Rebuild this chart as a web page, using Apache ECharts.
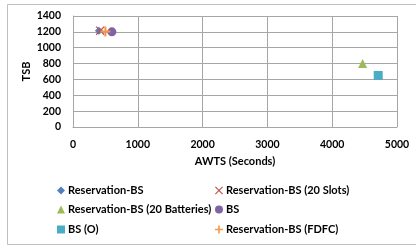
<!DOCTYPE html>
<html>
<head>
<meta charset="utf-8">
<script src="https://cdn.jsdelivr.net/npm/echarts@6/dist/echarts.min.js"></script>
<style>
  html, body { margin: 0; padding: 0; background: #fff; }
  #chart { width: 416px; height: 248px; }
</style>
</head>
<body>
<div id="chart"></div>
<script>
// Dados (AWTS em segundos, TSB)
const seriesNames = [
    'Reservation-BS',
    'Reservation-BS (20 Slots)',
    'Reservation-BS (20 Batteries)',
    'BS',
    'BS (O)',
    'Reservation-BS (FDFC)'
];
const awtsValues = [400, 420, 4470, 600, 4710, 500];
const tsbValues = [1215, 1215, 800, 1200, 650, 1205];
const xTicks = [0, 1000, 2000, 3000, 4000, 5000];
const yTicks = [0, 200, 400, 600, 800, 1000, 1200, 1400];

const colors = ['#4F81BD', '#C0504D', '#9BBB59', '#8064A2', '#4BACC6', '#F79646'];
const xPath = 'path://M0,1L1,0L5,4L9,0L10,1L6,5L10,9L9,10L5,6L1,10L0,9L4,5Z';
const plusPath = 'path://M4,0H6V4H10V6H6V10H4V6H0V4H4Z';
const symbols = ['diamond', xPath, 'triangle', 'circle', 'rect', plusPath];
const sizes = [8, 9, 9, 9, 9, 10];

const FONT = 'Lato';
const chart = echarts.init(document.getElementById('chart'));

// posição de cada item da legenda (duas colunas)
const legendPos = [[57, 185], [215, 185], [57, 204], [215, 204], [57, 224], [215, 224]];

const labelStyle = { fontFamily: FONT, fontWeight: 'bold', fontSize: 10.5, color: '#000' };
const textStyle = Object.assign({}, labelStyle, { fontSize: 11 });

const option = {
    animation: false,
    graphic: [{
        type: 'rect',
        shape: { x: 7.5, y: 4.5, width: 420, height: 240 },
        style: { fill: 'none', stroke: '#BFBFBF', lineWidth: 1 },
        silent: true
    }],
    grid: { left: 73, right: 19, top: 16, bottom: 121 },
    legend: seriesNames.map((name, i) => ({
        data: [name],
        left: legendPos[i][0],
        top: legendPos[i][1],
        itemWidth: 8,
        itemHeight: 8,
        itemGap: 0,
        padding: 0,
        textStyle: Object.assign({}, textStyle, { padding: [0, 0, 0, -2] })
    })),
    xAxis: {
        type: 'value',
        min: xTicks[0],
        max: xTicks[xTicks.length - 1],
        interval: xTicks[1] - xTicks[0],
        name: 'AWTS (Seconds)',
        nameLocation: 'middle',
        nameGap: 29,
        nameMoveOverlap: false,
        nameTextStyle: textStyle,
        axisLine: { show: true, lineStyle: { color: '#A6A6A6' } },
        axisTick: { show: false },
        axisLabel: Object.assign({}, labelStyle, { margin: 12, formatter: (v) => String(v) }),
        splitLine: { show: true, lineStyle: { color: '#A6A6A6' } }
    },
    yAxis: {
        type: 'value',
        min: yTicks[0],
        max: yTicks[yTicks.length - 1],
        interval: yTicks[1] - yTicks[0],
        name: 'TSB',
        nameLocation: 'middle',
        nameGap: 41,
        nameMoveOverlap: false,
        nameTextStyle: textStyle,
        axisLine: { show: true, lineStyle: { color: '#A6A6A6' } },
        axisTick: { show: false },
        axisLabel: Object.assign({}, labelStyle, { margin: 12, formatter: (v) => String(v) }),
        splitLine: { show: true, lineStyle: { color: '#A6A6A6' } }
    },
    series: seriesNames.map((name, i) => ({
        name,
        type: 'scatter',
        symbol: symbols[i],
        symbolSize: sizes[i],
        itemStyle: { color: colors[i], opacity: 1 },
        data: [[awtsValues[i], tsbValues[i]]]
    }))
};

chart.setOption(option);
</script>
</body>
</html>
